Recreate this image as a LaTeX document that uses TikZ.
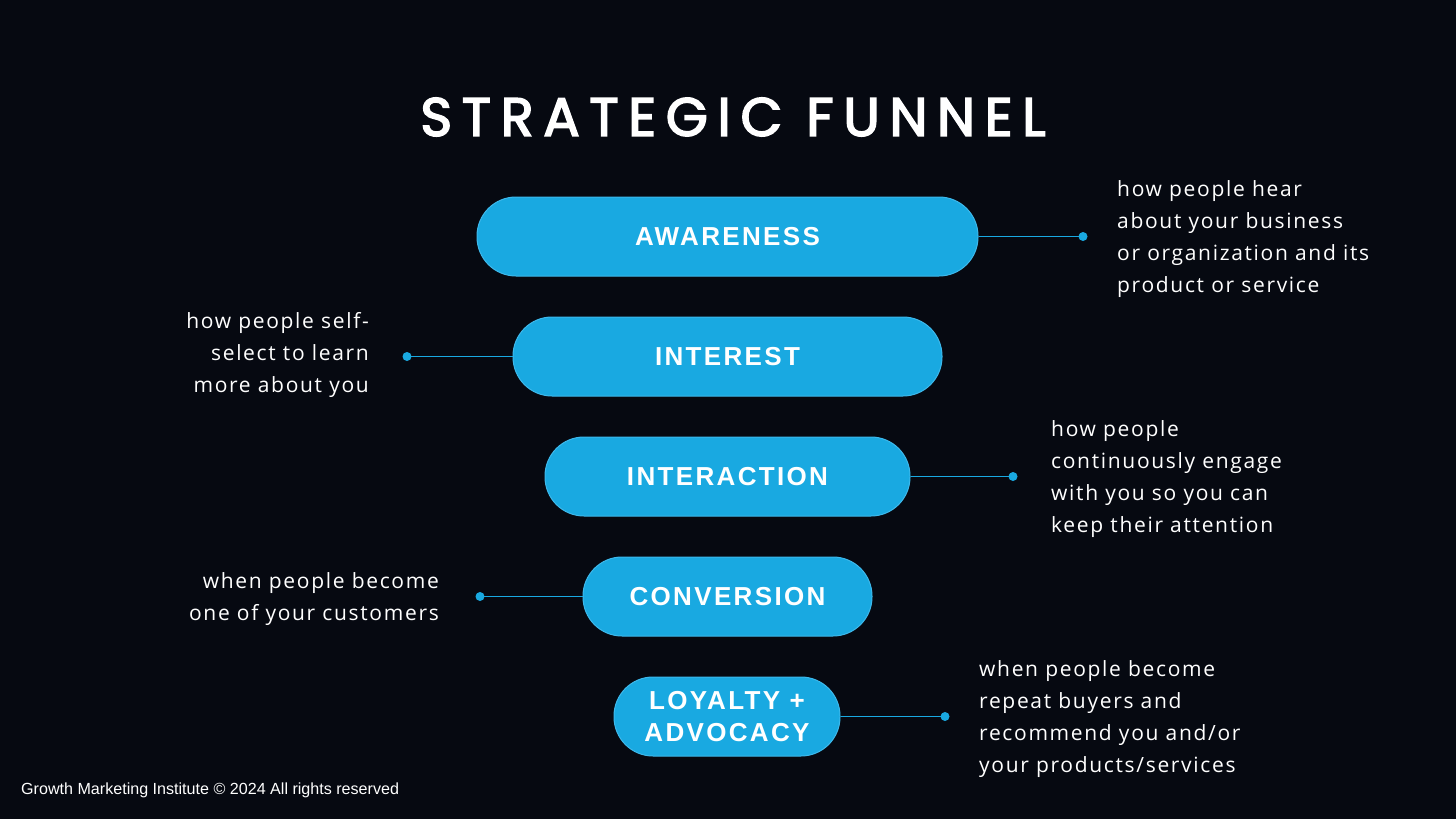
\documentclass[tikz,border=0pt]{standalone}
\usepackage{fontspec}
\setmainfont{Liberation Sans}
\newfontfamily\titlefont[LetterSpace=18,FakeBold=3]{Poppins}
\newfontfamily\pillfont[LetterSpace=9]{Liberation Sans}
\newfontfamily\descfont[LetterSpace=8]{Open Sans}
\definecolor{bg}{HTML}{060911}
\definecolor{pillblue}{HTML}{19A9E1}
\definecolor{pilledge}{HTML}{3DB9EC}
\begin{document}
\begin{tikzpicture}[x=1pt,y=-1pt,
  pill/.style={draw=pilledge, line width=1pt, fill=pillblue, rounded corners=39pt,
    minimum height=79pt, inner sep=0pt, text=white, align=center,
    font=\pillfont\bfseries\fontsize{26}{32}\selectfont},
  link/.style={draw=pillblue, line width=1.8pt},
  desc/.style={text=white, inner sep=0pt, font=\descfont\fontsize{21}{32}\selectfont},
  dotmark/.style={fill=pillblue}
]
\fill[bg] (0,0) rectangle (1456,819);
\useasboundingbox (0,0) rectangle (1456,819);

\node[text=white, font=\titlefont\fontsize{54}{60}\selectfont] (title) at (733,117) {STRATEGIC FUNNEL};

\node[pill, minimum width=501pt] (aw) at (727.5,236.5) {AWARENESS};
\node[pill, minimum width=429pt] (in) at (727.5,356.5) {INTEREST};
\node[pill, minimum width=365pt] (ia) at (727.5,476.5) {INTERACTION};
\node[pill, minimum width=289pt] (co) at (727.5,596.5) {CONVERSION};
\node[pill, minimum width=226pt] (lo) at (727,716.5) {LOYALTY +\\ADVOCACY};

\coordinate (awd) at (1083,236.5);
\coordinate (ind) at (407,356.5);
\coordinate (iad) at (1013,476.5);
\coordinate (cod) at (480,596.5);
\coordinate (lod) at (945,716.5);

\draw[link] (aw.east) -- (awd);
\draw[link] (in.west) -- (ind);
\draw[link] (ia.east) -- (iad);
\draw[link] (co.west) -- (cod);
\draw[link] (lo.east) -- (lod);
\foreach \d in {awd,ind,iad,cod,lod} \fill[dotmark] (\d) circle (4.5pt);

\node[desc, anchor=west, align=left] (awt) at (1117,239) {how people hear\\about your business\\or organization and its\\product or service};
\node[desc, anchor=east, align=right] (int) at (369,355) {how people self-\\select to learn\\more about you};
\node[desc, anchor=west, align=left] (iat) at (1051,479) {how people\\continuously engage\\with you so you can\\keep their attention};
\node[desc, anchor=east, align=right] (cot) at (439,599) {when people become\\one of your customers};
\node[desc, anchor=west, align=left] (lot) at (979,719) {when people become\\repeat buyers and\\recommend you and/or\\your products/services};

\node[text=white, anchor=base west, inner sep=0pt, font=\fontsize{16.1}{19}\selectfont] (foot) at (21,794) {Growth Marketing Institute \textcopyright{} 2024 All rights reserved};
\end{tikzpicture}
\end{document}
